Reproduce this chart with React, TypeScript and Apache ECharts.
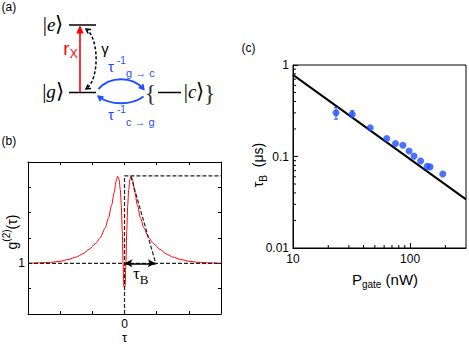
import { useEffect, useRef } from 'react';
import * as echarts from 'echarts';

// ---------- Panel (b): g2(tau) sketch ----------
const redTau = [-3, -2.6, -2.3, -2.0, -1.75, -1.5, -1.3, -1.1, -0.9, -0.75, -0.6, -0.5, -0.4, -0.32, -0.26, -0.21, -0.17, -0.13, -0.1, -0.07, -0.045, -0.02, 0, 0.02, 0.045, 0.07, 0.1, 0.13, 0.17, 0.21, 0.26, 0.32, 0.4, 0.5, 0.6, 0.75, 0.9, 1.1, 1.3, 1.5, 1.75, 2.0, 2.3, 2.6, 3];
const redG2 = [1.0, 1.02, 1.04, 1.08, 1.15, 1.25, 1.37, 1.55, 1.78, 2.02, 2.4, 2.78, 3.3, 3.8, 4.25, 4.43, 4.32, 3.9, 3.3, 2.3, 1.0, 0.1, 0.05, 0.1, 1.0, 2.3, 3.3, 3.9, 4.32, 4.43, 4.25, 3.8, 3.3, 2.78, 2.4, 2.02, 1.78, 1.55, 1.37, 1.25, 1.15, 1.08, 1.04, 1.02, 1.0];
const baseTau = [-3, 3];
const baseG2 = [1, 1];
const stepTau = [0, 0, 3];
const stepG2 = [-1, 4.45, 4.45];
const slopeTau = [0.2, 0.97];
const slopeG2 = [4.43, 1];
const tauBArrow = [0, 0.97];
const bYLabels = ['1'];
const bXLabels = ['0'];

// ---------- Panel (c): tau_B vs P_gate ----------
const pGate = [23.3, 32.0, 45.6, 63.2, 75.0, 86.7, 98.0, 108, 123, 140, 148, 190];
const tauB = [0.30, 0.29, 0.206, 0.157, 0.139, 0.133, 0.115, 0.101, 0.0895, 0.078, 0.077, 0.0645];
const errP = [23.3, 32.0];
const errLo = [0.256, 0.268];
const errHi = [0.344, 0.316];
const fitP = [10, 300];
const fitTau = [0.78, 0.034];
const xMinorTicks = [20, 30, 40, 50, 60, 70, 80, 90, 200];
const yMinorTicks = [0.02, 0.03, 0.04, 0.05, 0.06, 0.07, 0.08, 0.09, 0.2, 0.3, 0.4, 0.5, 0.6, 0.7, 0.8, 0.9];

const SANS = '"Liberation Sans", Arial, Helvetica, sans-serif';
const SERIF = '"Liberation Serif", "Times New Roman", serif';
const BLUE = '#1f4fff';
const RED = '#ff0000';

const richSet = (size: number, sub: number, family: string, color: string) => ({
  m: { fontSize: size, fontFamily: family, lineHeight: 22, verticalAlign: 'middle', fill: color, color },
  mi: { fontSize: size, fontFamily: family, fontStyle: 'italic', lineHeight: 22, verticalAlign: 'middle', fill: color, color },
  sb: { fontSize: sub, fontFamily: family, lineHeight: 10, verticalAlign: 'top', padding: [11, 0, 0, 0], fill: color, color },
  sp: { fontSize: sub, fontFamily: family, lineHeight: 10, verticalAlign: 'top', padding: [1, 0, 0, 0], fill: color, color },
});

const plain = (x: number, y: number, text: string, size: number, color = '#000', align = 'left', family = SANS) => ({
  type: 'text', x, y, silent: true,
  style: { text, fontSize: size, fontFamily: family, fill: color, align, verticalAlign: 'middle' },
});

const rich = (x: number, y: number, text: string, size: number, sub: number, family: string, color: string, align = 'center', rotation = 0) => ({
  type: 'text', x, y, rotation, silent: true,
  style: { text, align, verticalAlign: 'middle', rich: richSet(size, sub, family, color) },
});

const ket = (x: number, y: number, letter: string) => ({
  type: 'text', x, y, silent: true,
  style: {
    text: `{b||}{i|${letter}}{b|⟩}`, align: 'center', verticalAlign: 'middle',
    rich: {
      b: { fontSize: 21, fontFamily: SERIF, fill: '#000' },
      i: { fontSize: 19, fontFamily: SERIF, fontStyle: 'italic', fill: '#000' },
    },
  },
});

const chevron = (pts: number[][], color: string, w: number) => ({
  type: 'polyline', silent: true, shape: { points: pts }, style: { stroke: color, lineWidth: w, fill: null },
});

function buildGraphic() {
  return [
    // panel labels
    plain(1.5, 7, '(a)', 12),
    plain(1.5, 141, '(b)', 12),
    plain(241.5, 47.5, '(c)', 12),
    // (a) level scheme
    { type: 'line', silent: true, shape: { x1: 69, y1: 25, x2: 96, y2: 25 }, style: { stroke: '#000', lineWidth: 1.5 } },
    { type: 'line', silent: true, shape: { x1: 69, y1: 92.5, x2: 96, y2: 92.5 }, style: { stroke: '#000', lineWidth: 1.5 } },
    ket(53, 24, 'e'),
    ket(53, 91, 'g'),
    { type: 'line', silent: true, shape: { x1: 80, y1: 92.5, x2: 80, y2: 31 }, style: { stroke: RED, lineWidth: 1.6 } },
    { type: 'polygon', silent: true, shape: { points: [[80, 25], [76.3, 33.5], [83.7, 33.5]] }, style: { fill: RED } },
    rich(70.5, 48, '{m|r}{sb|X}', 19, 12, SANS, RED),
    { type: 'bezierCurve', silent: true, shape: { x1: 86, y1: 29, cpx1: 99.5, cpy1: 38, cpx2: 99.5, cpy2: 80, x2: 86, y2: 89 }, style: { stroke: '#000', lineWidth: 1.5, lineDash: [3, 2], fill: null } },
    chevron([[88.1, 33.5], [86, 29], [91, 29.4]], '#000', 1.5),
    chevron([[91, 88.6], [86, 89], [88.1, 84.5]], '#000', 1.5),
    plain(105, 48, 'γ', 15, '#000', 'center'),
    // blue transitions
    { type: 'bezierCurve', silent: true, shape: { x1: 98.5, y1: 89, cpx1: 110, cpy1: 76, cpx2: 132, cpy2: 76, x2: 143.5, y2: 89 }, style: { stroke: BLUE, lineWidth: 2, fill: null } },
    chevron([[142.6, 84.1], [143.5, 89], [138.8, 87.3]], BLUE, 2),
    { type: 'bezierCurve', silent: true, shape: { x1: 143.5, y1: 96.5, cpx1: 132, cpy1: 105.5, cpx2: 110, cpy2: 105.5, x2: 98.5, y2: 96.5 }, style: { stroke: BLUE, lineWidth: 2, fill: null } },
    chevron([[100.4, 101.1], [98.5, 96.5], [103.5, 97.2]], BLUE, 2),
    plain(108, 66, 'τ', 15, BLUE),
    plain(117, 60.5, '-1', 10, BLUE),
    plain(126, 73, 'g → c', 11, BLUE),
    plain(108, 114.5, 'τ', 15, BLUE),
    plain(117, 109, '-1', 10, BLUE),
    plain(126, 122, 'c → g', 11, BLUE),
    plain(150.5, 93, '{', 24, '#333', 'center', SERIF),
    { type: 'line', silent: true, shape: { x1: 158, y1: 92.5, x2: 181, y2: 92.5 }, style: { stroke: '#000', lineWidth: 1.5 } },
    ket(194, 91, 'c'),
    plain(209.5, 93, '}', 24, '#333', 'center', SERIF),
    // (b) texts
    rich(11.5, 232, '{m|g}{sp|(2)}{m|(τ)}', 14, 10, SANS, '#000', 'center', Math.PI / 2),
    rich(133, 273, '{m|τ}{sb|B}', 17, 13, SERIF, '#000', 'left'),
    plain(124.6, 337.5, 'τ', 13, '#000', 'center'),
    // (c) texts
    rich(258, 165, '{m|τ}{sb|B}{m|  (μs)}', 14, 10, SANS, '#000', 'center', Math.PI / 2),
    rich(385, 279, '{m|P}{sb|gate}{m| (nW)}', 15, 10, SANS, '#000', 'center'),
  ];
}

function buildOption() {
  const frame = { onZero: false, lineStyle: { color: '#000', width: 1 } };
  const isDecade = (v: number) => Math.abs(Math.log10(v) - Math.round(Math.log10(v))) < 1e-6;
  return {
    animation: false,
    grid: [
      { left: 28, top: 162, width: 193, height: 152, containLabel: false },
      { left: 293, top: 65, width: 173, height: 183, containLabel: false, show: true, borderColor: '#000', borderWidth: 1 },
    ],
    xAxis: [
      {
        gridIndex: 0, type: 'value', min: -3, max: 3, interval: 1, position: 'bottom',
        axisLine: { show: true, ...frame }, axisTick: { show: true, inside: true, length: 3, lineStyle: { color: '#000' } },
        splitLine: { show: false },
        axisLabel: { fontSize: 12, fontFamily: SANS, color: '#000', margin: 4, formatter: (v: number) => (bXLabels.includes(String(v)) ? String(v) : '') },
      },
      {
        gridIndex: 0, type: 'value', min: -3, max: 3, interval: 1, position: 'top',
        axisLine: { show: true, ...frame }, axisTick: { show: true, inside: true, length: 3, lineStyle: { color: '#000' } },
        splitLine: { show: false }, axisLabel: { show: false },
      },
      {
        gridIndex: 1, type: 'log', logBase: 10, min: 10, max: 300, position: 'bottom',
        axisLine: { show: true, ...frame }, axisTick: { show: true, inside: true, length: 5, lineStyle: { color: '#000' } },
        splitLine: { show: false }, minorTick: { show: false },
        axisLabel: { fontSize: 12, fontFamily: SANS, color: '#000', margin: 5, showMaxLabel: false, formatter: (v: number) => (isDecade(v) ? String(Math.round(v)) : '') },
      },
    ],
    yAxis: [
      {
        gridIndex: 0, type: 'value', min: -1, max: 5, interval: 1, position: 'left',
        axisLine: { show: true, ...frame }, axisTick: { show: true, inside: true, length: 3, lineStyle: { color: '#000' } },
        splitLine: { show: false },
        axisLabel: { fontSize: 12, fontFamily: SANS, color: '#000', margin: 3, formatter: (v: number) => (bYLabels.includes(String(v)) ? String(v) : '') },
      },
      {
        gridIndex: 0, type: 'value', min: -1, max: 5, interval: 1, position: 'right',
        axisLine: { show: true, ...frame }, axisTick: { show: true, inside: true, length: 3, lineStyle: { color: '#000' } },
        splitLine: { show: false }, axisLabel: { show: false },
      },
      {
        gridIndex: 1, type: 'log', logBase: 10, min: 0.01, max: 1, position: 'left',
        axisLine: { show: true, ...frame }, axisTick: { show: true, inside: true, length: 5, lineStyle: { color: '#000' } },
        splitLine: { show: false },
        axisLabel: { fontSize: 12, fontFamily: SANS, color: '#000', margin: 4, formatter: (v: number) => (isDecade(v) ? String(+v.toPrecision(2)) : '') },
      },
    ],
    series: [
      {
        type: 'line', xAxisIndex: 0, yAxisIndex: 0, data: redTau.map((t, i) => [t, redG2[i]]),
        showSymbol: false, smooth: 0.25, smoothMonotone: 'x', lineStyle: { color: RED, width: 1 }, z: 2, silent: true,
      },
      {
        type: 'line', xAxisIndex: 0, yAxisIndex: 0, data: baseTau.map((t, i) => [t, baseG2[i]]),
        showSymbol: false, lineStyle: { color: '#222', width: 1.2, type: [4, 2] }, z: 3, silent: true,
      },
      {
        type: 'line', xAxisIndex: 0, yAxisIndex: 0, data: stepTau.map((t, i) => [t, stepG2[i]]),
        showSymbol: false, lineStyle: { color: '#222', width: 1.2, type: [4, 2] }, z: 3, silent: true,
      },
      {
        type: 'line', xAxisIndex: 0, yAxisIndex: 0, data: slopeTau.map((t, i) => [t, slopeG2[i]]),
        showSymbol: false, lineStyle: { color: '#222', width: 1.2, type: [4, 2] }, z: 3, silent: true,
        markLine: {
          silent: true, symbol: ['arrow', 'arrow'], symbolSize: [6, 8], label: { show: false },
          lineStyle: { color: '#000', width: 1.5, type: 'solid' },
          data: [[{ coord: [tauBArrow[0], 1] }, { coord: [tauBArrow[1], 1] }]],
        },
      },
      {
        type: 'line', xAxisIndex: 2, yAxisIndex: 2, data: fitP.map((p, i) => [p, fitTau[i]]),
        showSymbol: false, lineStyle: { color: '#000', width: 2 }, z: 3, silent: true,
      },
      {
        type: 'scatter', xAxisIndex: 2, yAxisIndex: 2, data: pGate.map((p, i) => [p, tauB[i]]),
        symbol: 'circle', symbolSize: 7, itemStyle: { color: BLUE }, z: 4, silent: true,
      },
      {
        type: 'custom', xAxisIndex: 2, yAxisIndex: 2, data: errP.map((p, i) => [p, errLo[i], errHi[i]]),
        encode: { x: 0, y: [1, 2] }, z: 4, silent: true,
        renderItem: (_p: any, api: any) => {
          const lo = api.coord([api.value(0), api.value(1)]);
          const hi = api.coord([api.value(0), api.value(2)]);
          const st = { stroke: BLUE, lineWidth: 1 };
          return {
            type: 'group', children: [
              { type: 'line', shape: { x1: lo[0], y1: lo[1], x2: hi[0], y2: hi[1] }, style: st },
              { type: 'line', shape: { x1: lo[0] - 2, y1: lo[1], x2: lo[0] + 2, y2: lo[1] }, style: st },
              { type: 'line', shape: { x1: hi[0] - 2, y1: hi[1], x2: hi[0] + 2, y2: hi[1] }, style: st },
            ],
          };
        },
      },
      {
        type: 'custom', xAxisIndex: 2, yAxisIndex: 2, data: xMinorTicks.map((v) => [v, 0.01]), silent: true, z: 5,
        renderItem: (_p: any, api: any) => {
          const c = api.coord([api.value(0), api.value(1)]);
          return { type: 'line', shape: { x1: c[0], y1: c[1], x2: c[0], y2: c[1] - 3 }, style: { stroke: '#000', lineWidth: 1 } };
        },
      },
      {
        type: 'custom', xAxisIndex: 2, yAxisIndex: 2, data: yMinorTicks.map((v) => [10, v]), silent: true, z: 5,
        renderItem: (_p: any, api: any) => {
          const c = api.coord([api.value(0), api.value(1)]);
          return { type: 'line', shape: { x1: c[0], y1: c[1], x2: c[0] + 3, y2: c[1] }, style: { stroke: '#000', lineWidth: 1 } };
        },
      },
    ],
    graphic: buildGraphic(),
  };
}

export default function App() {
  const ref = useRef<HTMLDivElement>(null);
  useEffect(() => {
    if (!ref.current) return;
    const chart = echarts.init(ref.current, null, { renderer: 'svg' });
    chart.setOption(buildOption() as any);
    return () => chart.dispose();
  }, []);
  return <div ref={ref} style={{ position: 'absolute', left: 0, top: 0, width: 469, height: 344, background: '#fff' }} />;
}
